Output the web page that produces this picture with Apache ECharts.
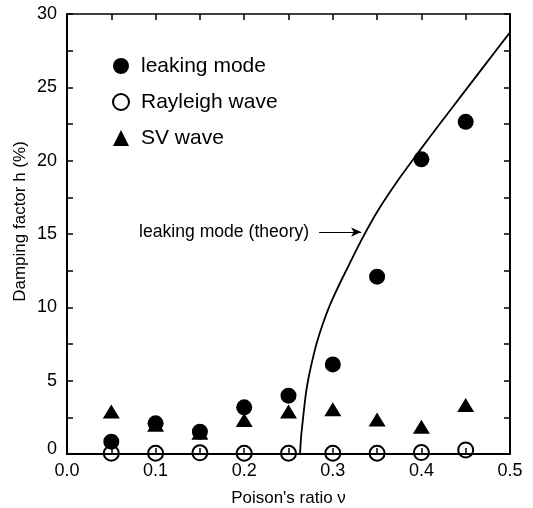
<!DOCTYPE html>
<html>
<head>
<meta charset="utf-8">
<script src="https://cdn.jsdelivr.net/npm/echarts@6/dist/echarts.min.js"></script>
<style>
html,body{margin:0;padding:0;background:#fff;}
#chart{width:533px;height:508px;}
</style>
</head>
<body>
<div id="chart"></div>
<script>
// ---- data ----
var nuValues      = [0.05, 0.10, 0.15, 0.20, 0.25, 0.30, 0.35, 0.40, 0.45];
var leakingMode   = [0.84, 2.09, 1.52, 3.18, 3.98, 6.11, 12.09, 20.09, 22.65];
var rayleighWave  = [0.05, 0.05, 0.08, 0.05, 0.05, 0.05, 0.05, 0.10, 0.28];
var svWave        = [2.89, 2.00, 1.45, 2.32, 2.89, 3.05, 2.36, 1.86, 3.34];
var theoryNu      = [0.263, 0.2640, 0.2658, 0.2696, 0.2730, 0.277, 0.282, 0.288, 0.295, 0.3034, 0.3105, 0.3183, 0.3333, 0.352, 0.3746, 0.397, 0.420, 0.446, 0.472, 0.5];
var theoryH       = [0.0,   1.0,    2.1,    4.1,    5.3,    6.4,   7.6,   8.75,  9.9,   11.05,  11.95,  12.9,   14.7,   16.7,  18.75,  20.6,  22.45, 24.5,  26.55, 28.75];
var xTickLabels   = ['0.0', '0.1', '0.2', '0.3', '0.4', '0.5'];
var yTickLabels   = ['0', '5', '10', '15', '20', '25', '30'];
var annotationArrow = {text: 'leaking mode (theory)', nuFrom: 0.2846, nuTo: 0.332, h: 15.13};

function pairs(xs, ys) { return xs.map(function (x, i) { return [x, ys[i]]; }); }

var FONT = '"Liberation Sans", Arial, Helvetica, sans-serif';
var black = '#000';
var GRID = {left: 67, right: 23, top: 14, bottom: 54};
var W = 533, H = 508;
var gridW = W - GRID.left - GRID.right;   // 443
var gridH = H - GRID.top - GRID.bottom;   // 440

var chart = echarts.init(document.getElementById('chart'), null, {renderer: 'canvas'});

var tickOn = {
  axisTick: {show: true, inside: false, length: 6, lineStyle: {color: black, width: 1.5}},
  minorTick: {show: true, splitNumber: 2, length: 6, lineStyle: {color: black, width: 1.5}}
};
var tickOff = {axisTick: {show: false}, minorTick: {show: false}};
var noGrid = {splitLine: {show: false}, minorSplitLine: {show: false}};
var xRange = {type: 'value', min: 0, max: 0.5, interval: 0.1};
var yRange = {type: 'value', min: 0, max: 30, interval: 5};

var option = {
  animation: false,
  backgroundColor: '#fff',
  textStyle: {fontFamily: FONT, color: black},
  grid: {left: GRID.left, right: GRID.right, top: GRID.top, bottom: GRID.bottom,
         containLabel: false, outerBoundsMode: 'none'},
  legend: {
    orient: 'vertical',
    left: 107,
    top: 50,
    itemWidth: 16,
    itemHeight: 16,
    itemGap: 14,
    data: ['leaking mode', 'Rayleigh wave', 'SV wave'],
    textStyle: {fontFamily: FONT, fontSize: 21, color: black, lineHeight: 22, padding: [0, 0, 0, 7]}
  },
  xAxis: [
    // main bottom axis: line, labels, name
    Object.assign({}, xRange, noGrid, tickOff, {
      position: 'bottom',
      axisLine: {show: true, onZero: false, lineStyle: {color: black, width: 2}},
      name: "Poison's ratio \u03bd", nameLocation: 'middle', nameGap: 36,
      nameTextStyle: {fontFamily: FONT, fontSize: 17, color: black},
      axisLabel: {
        fontFamily: FONT, fontSize: 18, color: black, margin: 8,
        formatter: function (v) { return xTickLabels[Math.round(v * 10)]; }
      }
    }),
    // inward ticks on bottom edge (a top-type axis moved down to the bottom edge)
    Object.assign({}, xRange, noGrid, tickOn, {
      position: 'top', offset: -gridH,
      axisLine: {show: false, onZero: false},
      axisLabel: {show: false}
    }),
    // top border with inward ticks (a bottom-type axis moved up to the top edge)
    Object.assign({}, xRange, noGrid, tickOn, {
      position: 'bottom', offset: -gridH,
      axisLine: {show: true, onZero: false, lineStyle: {color: black, width: 1.5}},
      axisLabel: {show: false}
    })
  ],
  yAxis: [
    Object.assign({}, yRange, noGrid, tickOff, {
      position: 'left',
      axisLine: {show: true, onZero: false, lineStyle: {color: black, width: 2}},
      name: 'Damping factor h (%)', nameLocation: 'middle', nameGap: 38,
      nameMoveOverlap: false,
      nameTextStyle: {fontFamily: FONT, fontSize: 17, color: black, padding: [0, 0, 0, 25]},
      axisLabel: {
        fontFamily: FONT, fontSize: 18, color: black, margin: 10,
        formatter: function (v) {
          var s = yTickLabels[Math.round(v / 5)];
          return v === 0 ? '{z|' + s + '}' : s;
        },
        rich: {z: {fontFamily: FONT, fontSize: 18, color: black, padding: [0, 0, 10, 0]}}
      }
    }),
    // inward ticks on the left edge
    Object.assign({}, yRange, noGrid, tickOn, {
      position: 'right', offset: -gridW,
      axisLine: {show: false, onZero: false},
      axisLabel: {show: false}
    }),
    // right border with inward ticks
    Object.assign({}, yRange, noGrid, tickOn, {
      position: 'left', offset: -gridW,
      axisLine: {show: true, onZero: false, lineStyle: {color: black, width: 2}},
      axisLabel: {show: false}
    })
  ],
  series: [
    {
      name: 'leaking mode (theory)',
      type: 'line',
      data: pairs(theoryNu, theoryH),
      smooth: 0.25,
      showSymbol: false,
      symbol: 'none',
      clip: true,
      lineStyle: {color: black, width: 1.8},
      z: 1,
      markLine: {
        silent: true,
        symbol: ['none', 'arrow'],
        symbolSize: [7, 10],
        lineStyle: {color: black, width: 1, type: 'solid'},
        label: {
          show: true, position: 'start', distance: 10,
          formatter: annotationArrow.text,
          fontFamily: FONT, fontSize: 17.6, color: black
        },
        data: [[
          {coord: [annotationArrow.nuFrom, annotationArrow.h]},
          {coord: [annotationArrow.nuTo, annotationArrow.h]}
        ]]
      }
    },
    {
      name: 'SV wave',
      type: 'scatter',
      symbol: 'triangle',
      symbolSize: [17, 14],
      data: pairs(nuValues, svWave),
      itemStyle: {color: black, opacity: 1},
      z: 2
    },
    {
      name: 'Rayleigh wave',
      type: 'scatter',
      symbol: 'circle',
      symbolSize: 15,
      data: pairs(nuValues, rayleighWave),
      itemStyle: {color: 'rgba(0,0,0,0)', borderColor: black, borderWidth: 2, opacity: 1},
      z: 3
    },
    {
      name: 'leaking mode',
      type: 'scatter',
      symbol: 'circle',
      symbolSize: 16,
      data: pairs(nuValues, leakingMode),
      itemStyle: {color: black, opacity: 1},
      z: 4
    }
  ]
};

chart.setOption(option);
</script>
</body>
</html>
